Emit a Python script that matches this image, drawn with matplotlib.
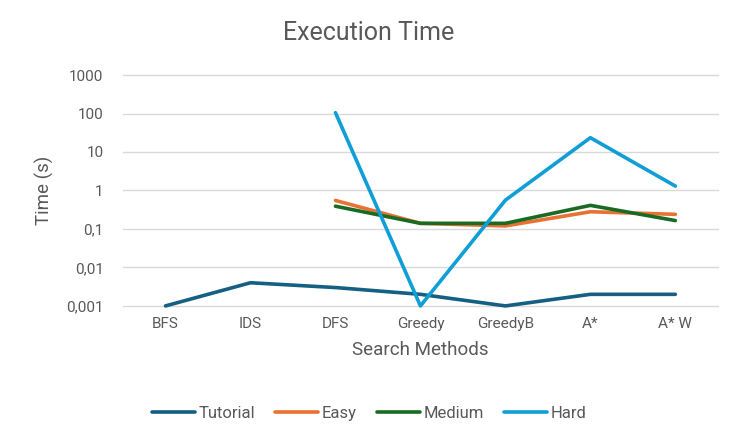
import numpy as np
import matplotlib.pyplot as plt
from matplotlib.ticker import FixedLocator, FuncFormatter

plt.rcParams['font.family'] = ['Roboto', 'DejaVu Sans']

methods = ["BFS", "IDS", "DFS", "Greedy", "GreedyB", "A*", "A* W"]
tutorial = [0.001, 0.004, 0.003, 0.002, 0.001, 0.002, 0.002]
easy = [np.nan, np.nan, 0.55, 0.14, 0.12, 0.28, 0.24]
medium = [np.nan, np.nan, 0.39, 0.14, 0.14, 0.41, 0.165]
hard = [np.nan, np.nan, 105, 0.001, 0.56, 23.5, 1.3]

series = [
    ("Tutorial", tutorial, "#156082"),
    ("Easy", easy, "#E97132"),
    ("Medium", medium, "#196B24"),
    ("Hard", hard, "#0F9ED5"),
]

text_col = "#595959"

fig = plt.figure(figsize=(7.38, 4.44), dpi=100)
ax = fig.add_axes([0.1667, 0.311, 0.806, 0.520])

x = np.arange(len(methods))
for name, vals, col in series:
    ax.plot(x, vals, color=col, lw=2.6, label=name, clip_on=False,
            solid_capstyle="round", solid_joinstyle="round", zorder=3)

ax.set_yscale("log")
ax.set_ylim(0.001, 1000)
ax.set_xlim(-0.5, len(methods) - 0.5)
ticks = [0.001, 0.01, 0.1, 1, 10, 100, 1000]
ax.yaxis.set_major_locator(FixedLocator(ticks))
ax.yaxis.set_minor_locator(FixedLocator([]))


def comma_fmt(v, pos):
    return f"{v:g}".replace(".", ",")


ax.yaxis.set_major_formatter(FuncFormatter(comma_fmt))
ax.set_xticks(x)
ax.set_xticklabels(methods)
for t in ticks:
    ax.axhline(t, color="#D9D9D9", lw=1, clip_on=False, zorder=1)
for s in ax.spines.values():
    s.set_visible(False)
ax.tick_params(length=0, labelsize=11, colors=text_col, pad=8)
ax.tick_params(axis="y", pad=14)

ax.set_xlabel("Search Methods", fontsize=13.5, color=text_col, labelpad=7)
ax.set_ylabel("Time (s)", fontsize=13.5, color=text_col, labelpad=9)
fig.text(0.5, 0.925, "Execution Time", ha="center", va="center",
         fontsize=18, color=text_col)

fig.legend(loc="center", bbox_to_anchor=(0.5, 0.068), ncol=4, frameon=False,
           fontsize=12, labelcolor=text_col, handlelength=2.6,
           handletextpad=0.2, columnspacing=1.2)

fig.savefig("out.png", dpi=100)
